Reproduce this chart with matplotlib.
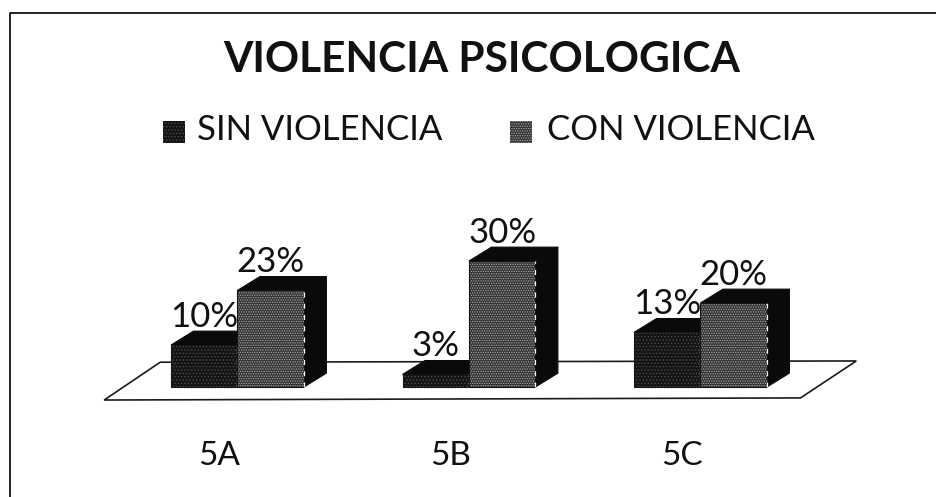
# -*- coding: utf-8 -*-
"""
Violencia psicologica, pseudo 3D grouped bars on a floor
"""
import matplotlib
matplotlib.use('Agg')
import matplotlib.pyplot as plt
from matplotlib.patches import Polygon, Rectangle

title = 'VIOLENCIA PSICOLOGICA'
groups = ['5A', '5B', '5C']
series_names = ['SIN VIOLENCIA', 'CON VIOLENCIA']
sin_violencia = [10, 3, 13]
con_violencia = [23, 30, 20]

plt.rcParams['font.family'] = ['Lato', 'DejaVu Sans']
plt.rcParams['hatch.linewidth'] = 0.6

W, H = 937, 497
fig = plt.figure(figsize=(W / 100, H / 100), dpi=100, facecolor='white')
ax = fig.add_axes([0, 0, 1, 1])

# one group = 231.5 px, one percent = 4.2 px
ax.set_xlim(-237.5 / 231.5, (W - 237.5) / 231.5)
ax.set_ylim((387 - H) / 4.2, 387 / 4.2)
ax.axis('off')

bar_w = 0.287
dx, dy = 0.097, 3.3


def bar3d(x, v, front, hatch, hatch_col, z):
    ax.add_patch(Polygon([(x, v), (x + dx, v + dy), (x + bar_w + dx, v + dy), (x + bar_w, v)],
                         fc='#0a0a0a', ec='#0a0a0a', lw=0.8, zorder=z))
    ax.add_patch(Polygon([(x + bar_w, 0), (x + bar_w + dx, dy), (x + bar_w + dx, v + dy), (x + bar_w, v)],
                         fc='#0a0a0a', ec='#0a0a0a', lw=0.8, zorder=z))
    ax.add_patch(Rectangle((x, 0), bar_w, v, fc=front, ec=hatch_col, hatch=hatch, lw=0, zorder=z + 0.1))
    ax.add_patch(Rectangle((x, 0), bar_w, v, fc='none', ec='#151515', lw=0.8, zorder=z + 0.2))
    # broken light line along the edge, as on the scan
    ax.plot([x + bar_w, x + bar_w], [0, v], color='white', lw=0.9, ls=(0, (4, 5)), zorder=z + 0.3)


# floor
fl = [(-0.576, -3.1), (-0.334, 5.9), (2.673, 6.2), (2.432, -2.6)]
ax.add_patch(Polygon(fl, fc='white', ec='#1a1a1a', lw=1.2, zorder=1))

for i, g in enumerate(groups):
    bar3d(i - bar_w, sin_violencia[i], '#141414', '.....', '#4a4a4a', 3)
    bar3d(i, con_violencia[i], '#333333', '.......', '#adadad', 4)
    ax.text(i - bar_w / 2, sin_violencia[i] + dy + 1, '%d%%' % sin_violencia[i], fontsize=25,
            color='#111111', ha='center', va='baseline', zorder=6)
    ax.text(i + bar_w / 2, con_violencia[i] + dy + 1, '%d%%' % con_violencia[i], fontsize=25,
            color='#111111', ha='center', va='baseline', zorder=6)
    ax.text(i - 0.08, -16.4, g, fontsize=24, color='#111111', ha='center', va='center')

# only the left and top sides of the frame are on the page
fig.add_artist(plt.Line2D([10 / W, 10 / W, 1], [0, 1 - 13 / H, 1 - 13 / H], color='#111111', lw=1.3))

fig.text(481.5 / W, 1 - 60 / H, title, fontsize=30.5, fontweight='bold', color='#111111',
         ha='center', va='center')

# legend
fig.add_artist(Rectangle((163 / W, 1 - 143 / H), 22 / W, 22 / H, transform=fig.transFigure,
                         fc='#141414', ec='#4a4a4a', hatch='.....', lw=0))
fig.text(197 / W, 1 - 130 / H, series_names[0], fontsize=25, color='#111111', ha='left', va='center')
fig.add_artist(Rectangle((510 / W, 1 - 143 / H), 22 / W, 22 / H, transform=fig.transFigure,
                         fc='#333333', ec='#adadad', hatch='.......', lw=0))
fig.text(547 / W, 1 - 130 / H, series_names[1], fontsize=25, color='#111111', ha='left', va='center')

plt.savefig('out.png', dpi=100)
